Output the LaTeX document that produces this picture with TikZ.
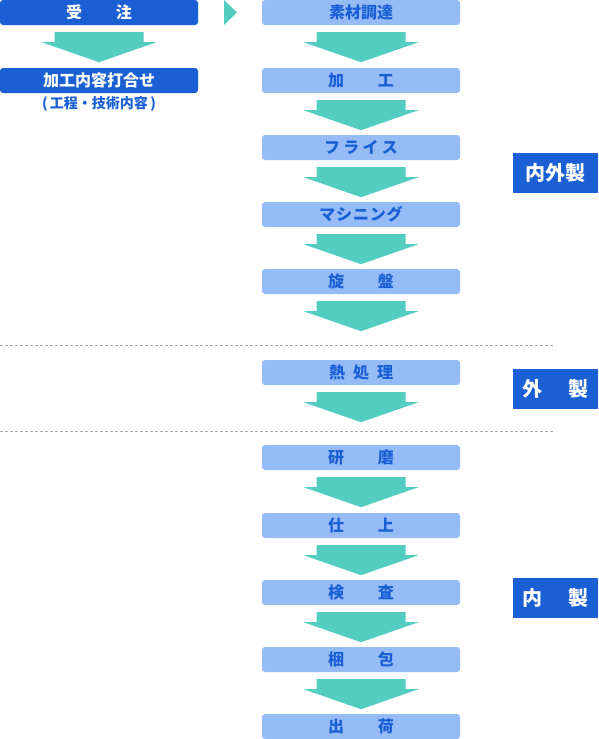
\documentclass[tikz,border=0pt]{standalone}
\usepackage{fontspec}
\newfontfamily\jp{Noto Sans CJK JP}
\usetikzlibrary{calc}
\definecolor{dblue}{HTML}{1A60D4}
\definecolor{lblue}{HTML}{95BCF6}
\definecolor{tealc}{HTML}{52CDC0}
\definecolor{dgray}{HTML}{A8A8A8}
\tikzset{
  dbox/.style={fill=dblue,text=white,rounded corners=3pt,minimum width=198pt,minimum height=25pt,inner sep=0pt,font=\jp\bfseries\fontsize{16}{16}\selectfont},
  lbox/.style={fill=lblue,text=dblue,rounded corners=3pt,minimum width=198pt,minimum height=25pt,inner sep=0pt,font=\jp\bfseries\fontsize{16}{16}\selectfont},
  tag/.style={fill=dblue,text=white,minimum width=85pt,minimum height=40pt,inner sep=0pt,font=\jp\bfseries\fontsize{20}{20}\selectfont},
  arr/.style={fill=tealc},
  sep/.style={draw=dgray,line width=0.8pt,dash pattern=on 3pt off 2pt}
}
\newcommand\barrow[1]{\fill[arr] ($(#1.south)+(-44.5,7)$) -- ++(89,0) -- ++(0,10) -- ++(13,0) -- ($(#1.south)+(0,37)$) -- ($(#1.south)+(-57.5,17)$) -- ++(13,0) -- cycle;}
\begin{document}
\begin{tikzpicture}[x=1pt,y=-1pt]
\useasboundingbox (0,0) rectangle (598,739);
% left column
\node[dbox] (order) at (99,12.5) {受\hspace{2.1em}注};
\node[dbox] (meet) at (99,80.5) {加工内容打合せ};
\node[text=dblue,font=\jp\bfseries\fontsize{14}{14}\selectfont] (meetsub) at (99,104) {(\,工程・技術内容\,)};
\barrow{order}
% pointer triangle
\coordinate (tA) at (224,0);
\coordinate (tB) at (237,12.5);
\coordinate (tC) at (224,25);
\fill[arr] (tA) -- (tB) -- (tC) -- cycle;
% right column
\node[lbox] (b1) at (361,12.5) {素材調達};
\node[lbox] (b2) at (361,80.5) {加\hspace{2.1em}工};
\node[lbox] (b3) at (361,147.5) {フ\hspace{0.2em}ラ\hspace{0.2em}イ\hspace{0.2em}ス};
\node[lbox] (b4) at (361,214.5) {マ\hspace{0.05em}シ\hspace{0.05em}ニ\hspace{0.05em}ン\hspace{0.05em}グ};
\node[lbox] (b5) at (361,281.5) {旋\hspace{2.1em}盤};
\node[lbox] (b6) at (361,372.5) {熱\hspace{0.5em}処\hspace{0.5em}理};
\node[lbox] (b7) at (361,457.5) {研\hspace{2.1em}磨};
\node[lbox] (b8) at (361,525.5) {仕\hspace{2.1em}上};
\node[lbox] (b9) at (361,592.5) {検\hspace{2.1em}査};
\node[lbox] (b10) at (361,659.5) {梱\hspace{2.1em}包};
\node[lbox] (b11) at (361,726.5) {出\hspace{2.1em}荷};
\barrow{b1}\barrow{b2}\barrow{b3}\barrow{b4}\barrow{b5}
\barrow{b6}\barrow{b7}\barrow{b8}\barrow{b9}\barrow{b10}
% separators
\coordinate (s1a) at (0,345.5); \coordinate (s1b) at (553,345.5);
\coordinate (s2a) at (0,431.5); \coordinate (s2b) at (553,431.5);
\draw[sep] (s1a) -- (s1b);
\draw[sep] (s2a) -- (s2b);
% tags
\node[tag] (t1) at (555.5,173) {内外製};
\node[tag] (t2) at (555.5,389) {外\hspace{1.3em}製};
\node[tag] (t3) at (555.5,598) {内\hspace{1.3em}製};
\end{tikzpicture}
\end{document}
